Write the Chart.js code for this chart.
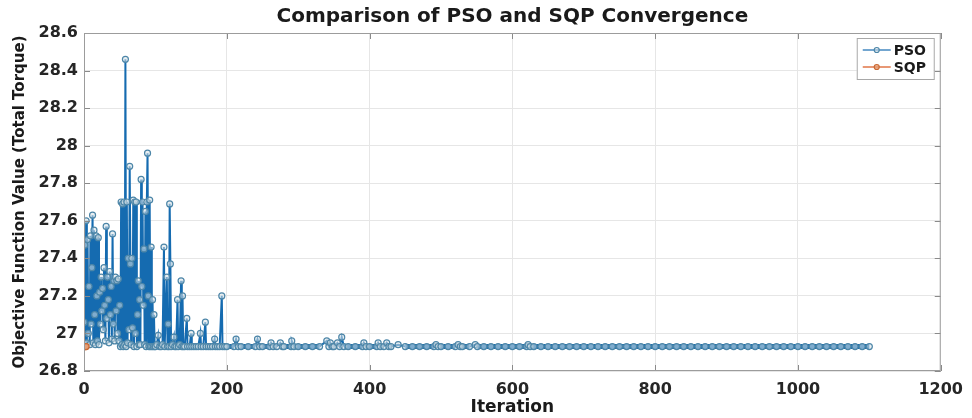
<!DOCTYPE html>
<html>
<head>
<meta charset="utf-8">
<script src="https://cdn.jsdelivr.net/npm/chart.js@4.4.1/dist/chart.umd.min.js"></script>
<style>
  html, body { margin: 0; padding: 0; background: #fff; }
  canvas { display: block; }
</style>
</head>
<body>
<canvas id="convergenceChart" width="972" height="418"></canvas>
<script>
const chartTitle = "Comparison of PSO and SQP Convergence";
const xTitle = "Iteration";
const yTitle = "Objective Function Value (Total Torque)";
const xTicks = [0, 200, 400, 600, 800, 1000, 1200];
const yTicks = [26.8, 27, 27.2, 27.4, 27.6, 27.8, 28, 28.2, 28.4, 28.6];
const seriesNames = ["PSO", "SQP"];

// PSO objective value per iteration
const psoIterations = [
    0, 1, 2, 3, 4, 5, 6, 7, 8, 9, 10, 11, 12, 13, 14, 15, 16, 17, 18, 19,
    20, 21, 22, 23, 24, 25, 26, 27, 28, 29, 30, 31, 32, 33, 34, 35, 36, 37, 38, 39,
    40, 41, 42, 43, 44, 45, 46, 47, 48, 49, 50, 51, 52, 53, 54, 55, 56, 57, 58, 59,
    60, 61, 62, 63, 64, 65, 66, 67, 68, 69, 70, 71, 72, 73, 74, 75, 76, 77, 78, 79,
    80, 81, 82, 83, 84, 85, 86, 87, 88, 89, 90, 91, 92, 93, 94, 95, 96, 97, 98, 99,
    100, 102, 104, 106, 108, 110, 112, 113, 116, 117, 118, 119, 120, 121, 122, 124, 126, 127, 129, 131,
    132, 134, 136, 137, 138, 139, 141, 144, 145, 148, 150, 151, 154, 157, 160, 163, 164, 167, 170, 171,
    174, 177, 180, 183, 184, 187, 190, 193, 194, 197,
    200, 210, 213, 216, 220, 230, 240, 243, 246, 250, 260, 262, 265, 270, 275, 278, 280, 290, 291, 294,
    300, 310, 320, 330, 340, 343, 345, 348, 350, 355, 358, 361, 364, 370, 380, 390, 392, 395, 400, 410,
    412, 415, 420, 424, 427, 430, 440, 450, 460, 470, 480, 490, 493, 496, 500, 510, 520, 524, 527, 530,
    540, 548, 551, 560, 570, 580, 590, 600, 610, 620, 622, 625, 630, 640, 650, 660, 670, 680, 690, 700,
    710, 720, 730, 740, 750, 760, 770, 780, 790, 800, 810, 820, 830, 840, 850, 860, 870, 880, 890, 900,
    910, 920, 930, 940, 950, 960, 970, 980, 990, 1000, 1010, 1020, 1030, 1040, 1050, 1060, 1070, 1080, 1090, 1100
];
const psoValues = [
    27.06, 27.47, 26.94, 27.60, 26.95, 27.50, 27.00, 27.25, 26.94, 27.52, 27.05, 27.35, 27.63, 26.95, 27.55, 27.10, 26.94, 27.52, 27.20, 26.96,
    27.51, 26.94, 27.22, 27.05, 27.30, 27.12, 27.24, 27.02, 27.35, 27.15, 26.96, 27.57, 27.08, 27.30, 27.18, 26.95, 27.33, 27.10, 27.25, 26.97,
    27.53, 27.05, 27.28, 26.96, 27.30, 27.12, 27.28, 27.00, 27.29, 26.96, 27.15, 26.93, 27.70, 26.94, 27.69, 26.93, 27.70, 26.94, 28.46, 26.93,
    27.70, 26.95, 27.40, 27.02, 27.89, 27.37, 26.94, 27.40, 27.03, 27.71, 26.93, 27.70, 27.00, 27.70, 26.93, 27.10, 27.28, 26.94, 27.18, 26.94,
    27.82, 27.25, 27.70, 27.15, 27.45, 26.94, 27.65, 26.93, 27.70, 27.96, 27.20, 26.93, 27.71, 26.93, 27.46, 26.93, 27.18, 26.93, 27.10, 26.93,
    26.93, 26.94, 26.99, 26.93, 26.93, 26.94, 27.46, 26.93, 27.30, 26.93, 27.05, 26.93, 27.69, 27.37, 26.93, 26.94, 26.98, 26.93, 26.93, 27.18,
    26.93, 26.94, 27.28, 26.93, 27.20, 26.93, 26.93, 27.08, 26.93, 26.93, 27.00, 26.93, 26.93, 26.93, 26.93, 27.00, 26.93, 26.93, 27.06, 26.93,
    26.93, 26.93, 26.93, 26.97, 26.93, 26.93, 26.93, 27.20, 26.93, 26.93,
    26.93, 26.93, 26.97, 26.93, 26.93, 26.93, 26.93, 26.97, 26.93, 26.93, 26.93, 26.95, 26.93, 26.93, 26.95, 26.93, 26.93, 26.93, 26.96, 26.93,
    26.93, 26.93, 26.93, 26.93, 26.96, 26.93, 26.95, 26.93, 26.93, 26.95, 26.93, 26.98, 26.93, 26.93, 26.93, 26.93, 26.95, 26.93, 26.93, 26.93,
    26.95, 26.93, 26.93, 26.95, 26.93, 26.93, 26.94, 26.93, 26.93, 26.93, 26.93, 26.93, 26.94, 26.93, 26.93, 26.93, 26.93, 26.94, 26.93, 26.93,
    26.93, 26.94, 26.93, 26.93, 26.93, 26.93, 26.93, 26.93, 26.93, 26.93, 26.94, 26.93, 26.93, 26.93, 26.93, 26.93, 26.93, 26.93, 26.93, 26.93,
    26.93, 26.93, 26.93, 26.93, 26.93, 26.93, 26.93, 26.93, 26.93, 26.93, 26.93, 26.93, 26.93, 26.93, 26.93, 26.93, 26.93, 26.93, 26.93, 26.93,
    26.93, 26.93, 26.93, 26.93, 26.93, 26.93, 26.93, 26.93, 26.93, 26.93, 26.93, 26.93, 26.93, 26.93, 26.93, 26.93, 26.93, 26.93, 26.93, 26.93
];

// SQP converges almost at once
const sqpIterations = [0, 1, 2, 3];
const sqpValues = [26.93, 26.93, 26.93, 26.93];

const psoColor = "#156bb0";
const sqpColor = "#d95319";

const toPoints = (xs, ys) => xs.map((x, i) => ({ x: x, y: ys[i] }));
const fmt = v => String(Number(Number(v).toFixed(1)));

const boldFont = size => ({ family: "DejaVu Sans", size: size, weight: "bold" });

// flat stretches are drawn as the dense band that overlapping markers make
const flatWidth = ctx => (ctx.p0.parsed.y <= 26.935 && ctx.p1.parsed.y <= 26.935) ? 5 : 2;

// MATLAB-like frame, inner tick marks and boxed legend
const frameAndLegend = {
    id: "frameAndLegend",
    afterDatasetsDraw(chart) {
        const { ctx, chartArea: a, scales } = chart;
        ctx.save();
        ctx.strokeStyle = "#8a8a8a";
        ctx.lineWidth = 1;
        ctx.beginPath();
        xTicks.forEach(v => {
            const px = Math.round(scales.x.getPixelForValue(v)) + 0.5;
            ctx.moveTo(px, a.bottom);
            ctx.lineTo(px, a.bottom - 6);
            ctx.moveTo(px, a.top);
            ctx.lineTo(px, a.top + 6);
        });
        yTicks.forEach(v => {
            const py = Math.round(scales.y.getPixelForValue(v)) + 0.5;
            ctx.moveTo(a.left, py);
            ctx.lineTo(a.left + 6, py);
            ctx.moveTo(a.right, py);
            ctx.lineTo(a.right - 6, py);
        });
        ctx.stroke();
        ctx.strokeStyle = "#9c9c9c";
        ctx.strokeRect(a.left + 0.5, a.top + 0.5, a.width - 1, a.height - 1);

        // legend
        const boxW = 77, boxH = 41;
        const bx = a.right - 7 - boxW, by = a.top + 5;
        ctx.fillStyle = "#ffffff";
        ctx.fillRect(bx, by, boxW, boxH);
        ctx.strokeStyle = "#a8a8a8";
        ctx.strokeRect(bx + 0.5, by + 0.5, boxW, boxH);
        ctx.font = "bold 14px 'DejaVu Sans'";
        ctx.textBaseline = "middle";
        chart.data.datasets.forEach((ds, i) => {
            const cy = by + 12 + i * 17;
            ctx.strokeStyle = ds.borderColor;
            ctx.lineWidth = 1.2;
            ctx.beginPath();
            ctx.moveTo(bx + 6, cy);
            ctx.lineTo(bx + 34, cy);
            ctx.stroke();
            ctx.beginPath();
            ctx.arc(bx + 20, cy, 2.5, 0, Math.PI * 2);
            ctx.fillStyle = ds.pointBackgroundColor;
            ctx.fill();
            ctx.strokeStyle = ds.pointBorderColor;
            ctx.stroke();
            ctx.fillStyle = "#1a1a1a";
            ctx.fillText(ds.label, bx + 37, cy + 1);
        });
        ctx.restore();
    }
};

new Chart(document.getElementById("convergenceChart"), {
    type: "line",
    data: {
        datasets: [
            {
                label: seriesNames[0],
                data: toPoints(psoIterations, psoValues),
                borderColor: psoColor,
                borderWidth: 2,
                segment: { borderWidth: flatWidth },
                pointRadius: 3,
                pointBorderWidth: 1.2,
                pointBorderColor: "#4d86a8",
                pointBackgroundColor: "rgba(215,225,232,0.55)",
                order: 1
            },
            {
                label: seriesNames[1],
                data: toPoints(sqpIterations, sqpValues),
                borderColor: sqpColor,
                borderWidth: 1.6,
                pointRadius: 3,
                pointBorderWidth: 1.2,
                pointBorderColor: "#c96a35",
                pointBackgroundColor: "rgba(230,160,120,0.8)",
                order: 0
            }
        ]
    },
    options: {
        responsive: false,
        animation: false,
        layout: { padding: { left: 0, right: 28, top: 0, bottom: 0 } },
        plugins: {
            legend: { display: false },
            tooltip: { enabled: false },
            title: {
                display: true,
                fullSize: false,
                text: chartTitle,
                color: "#1a1a1a",
                font: boldFont(20),
                padding: { top: 5, bottom: 4 }
            }
        },
        scales: {
            x: {
                type: "linear",
                min: 0,
                max: 1200,
                afterBuildTicks: s => { s.ticks = xTicks.map(v => ({ value: v })); },
                afterFit: s => { s.height = 47; },
                grid: { color: "#e6e6e6", drawTicks: false },
                border: { display: false },
                ticks: { color: "#262626", font: boldFont(16), padding: 9, maxRotation: 0, callback: v => fmt(v) },
                title: { display: true, text: xTitle, color: "#1a1a1a", font: boldFont(17), padding: { top: 0, bottom: 0 } }
            },
            y: {
                min: 26.8,
                max: 28.6,
                afterBuildTicks: s => { s.ticks = yTicks.map(v => ({ value: v })); },
                afterFit: s => { s.width = 84; },
                grid: { color: "#e6e6e6", drawTicks: false },
                border: { display: false },
                ticks: { color: "#262626", font: boldFont(16), padding: 6, callback: v => fmt(v) },
                title: { display: true, text: yTitle, color: "#1a1a1a", font: boldFont(15), padding: { top: 11, bottom: 0 } }
            }
        }
    },
    plugins: [frameAndLegend]
});
</script>
</body>
</html>
